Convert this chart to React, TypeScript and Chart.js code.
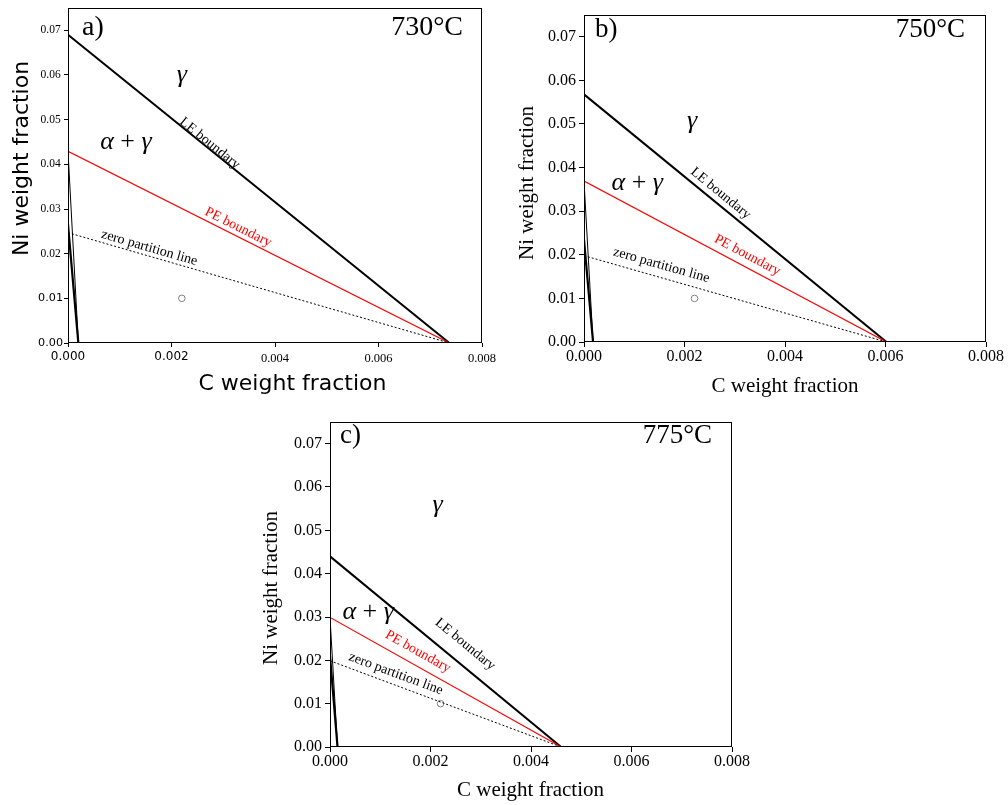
import React, { useEffect, useRef } from 'react';
import { Chart, registerables } from 'chart.js';

Chart.register(...registerables);

const SERIF = '"Liberation Serif", "Times New Roman", serif';
const SANS = '"DejaVu Sans", sans-serif';

// ---------------- data ----------------
const panelTags = ['a)', 'b)', 'c)'];
const temperatures = ['730°C', '750°C', '775°C'];

const xTickValues = [0, 0.002, 0.004, 0.006, 0.008];
const xTickLabels = ['0.000', '0.002', '0.004', '0.006', '0.008'];
const yTickValues = [0, 0.01, 0.02, 0.03, 0.04, 0.05, 0.06, 0.07];
const yTickLabels = ['0.00', '0.01', '0.02', '0.03', '0.04', '0.05', '0.06', '0.07'];
const xMax = 0.008;
const yMax = 0.075;

const xAxisTitle = 'C weight fraction';
const yAxisTitle = 'Ni weight fraction';

// boundary end points: Ni at C = 0, and C at Ni = 0
const leNiAtZeroC = [0.069, 0.0568, 0.044];
const peNiAtZeroC = [0.0429, 0.0369, 0.0299];
const zeroPartNiAtZeroC = [0.0247, 0.0198, 0.0199];
const boundaryCAtZeroNi = [0.00737, 0.00602, 0.0046];
const alphaCAtZeroNi = [0.0002, 0.00018, 0.00015];
const alphaInnerNi = [0.0265, 0.0235, 0.021];
const alloyC = [0.0022, 0.0022, 0.0022];
const alloyNi = [0.01, 0.01, 0.01];

// annotation anchors (data coordinates)
const gammaLabelC = [0.0022, 0.00215, 0.00214];
const gammaLabelNi = [0.0599, 0.0507, 0.0559];
const alphaGammaLabelC = [0.00112, 0.00106, 0.00076];
const alphaGammaLabelNi = [0.045, 0.0364, 0.031];
const leLabelC = [0.00274, 0.00272, 0.00269];
const leLabelNi = [0.0447, 0.0341, 0.0237];
const peLabelC = [0.00329, 0.00325, 0.00175];
const peLabelNi = [0.0259, 0.0199, 0.022];
const zpLabelC = [0.00157, 0.00154, 0.00131];
const zpLabelNi = [0.0213, 0.0176, 0.0169];

// ---------------- layout / styles ----------------
type PanelLayout = {
  left: number; top: number; w: number; h: number;
  area: { l: number; t: number; r: number; b: number };
  mixedTicks: boolean;
  tickSize: number;
  tickLen: number; padY: number; padX: number;
  titleFont: string;
  yTitle: [number, number]; xTitle: [number, number];
  tag: [number, number]; temp: [number, number]; bigSize: number;
};

const layouts: PanelLayout[] = [
  {
    left: 0, top: 0, w: 500, h: 400,
    area: { l: 68, t: 8, r: 482, b: 343 },
    mixedTicks: true, tickSize: 12.5, tickLen: 4, padY: 1, padX: 1,
    titleFont: `22px ${SANS}`,
    yTitle: [22, 158.5], xTitle: [292.5, 384],
    tag: [82, 35], temp: [463, 35], bigSize: 28,
  },
  {
    left: 500, top: 0, w: 508, h: 400,
    area: { l: 84, t: 15, r: 486, b: 342 },
    mixedTicks: false, tickSize: 16, tickLen: 5, padY: 3, padX: 0,
    titleFont: `21px ${SERIF}`,
    yTitle: [27.5, 183], xTitle: [285, 386],
    tag: [95, 37], temp: [465, 37], bigSize: 27,
  },
  {
    left: 250, top: 405, w: 520, h: 400,
    area: { l: 80, t: 17, r: 482, b: 342 },
    mixedTicks: false, tickSize: 16, tickLen: 5, padY: 3, padX: 0,
    titleFont: `21px ${SERIF}`,
    yTitle: [21.7, 183], xTitle: [280.5, 385],
    tag: [90, 38], temp: [462, 38], bigSize: 27,
  },
];

function makeOverlay(i: number) {
  const L = layouts[i];
  return {
    id: 'overlay' + i,
    afterDraw(chart: any) {
      const ctx: CanvasRenderingContext2D = chart.ctx;
      const xs = chart.scales.x;
      const ys = chart.scales.y;
      const ca = chart.chartArea;
      const px = (v: number) => xs.getPixelForValue(v);
      const py = (v: number) => ys.getPixelForValue(v);

      ctx.save();
      // frame
      ctx.strokeStyle = '#000';
      ctx.lineWidth = 1;
      const l = Math.round(ca.left), t = Math.round(ca.top);
      const r = Math.round(ca.right), b = Math.round(ca.bottom);
      ctx.strokeRect(l + 0.5, t + 0.5, r - l - 1, b - t - 1);

      // rotated line labels
      const xEnd = boundaryCAtZeroNi[i];
      const along = (text: string, cx: number, cy: number, y0: number, color: string) => {
        const ang = Math.atan2(py(0) - py(y0), px(xEnd) - px(0));
        ctx.save();
        ctx.translate(px(cx), py(cy));
        ctx.rotate(ang);
        ctx.font = `14px ${SERIF}`;
        ctx.fillStyle = color;
        ctx.textAlign = 'center';
        ctx.textBaseline = 'middle';
        ctx.fillText(text, 0, 0);
        ctx.restore();
      };
      along('LE boundary', leLabelC[i], leLabelNi[i], leNiAtZeroC[i], '#000');
      along('PE boundary', peLabelC[i], peLabelNi[i], peNiAtZeroC[i], '#ff0000');
      along('zero partition line', zpLabelC[i], zpLabelNi[i], zeroPartNiAtZeroC[i], '#000');

      // phase labels
      const gsize = 26;
      const italic = `italic ${gsize}px ${SERIF}`;
      const upright = `${gsize}px ${SERIF}`;
      ctx.fillStyle = '#000';
      ctx.textBaseline = 'middle';
      ctx.textAlign = 'center';
      ctx.font = italic;
      ctx.fillText('γ', px(gammaLabelC[i]), py(gammaLabelNi[i]));

      const parts: [string, string][] = [['α', italic], [' + ', upright], ['γ', italic]];
      let total = 0;
      const widths = parts.map(([s, f]) => { ctx.font = f; const w = ctx.measureText(s).width; total += w; return w; });
      let x0 = px(alphaGammaLabelC[i]) - total / 2;
      const yag = py(alphaGammaLabelNi[i]);
      ctx.textAlign = 'left';
      parts.forEach(([s, f], k) => { ctx.font = f; ctx.fillText(s, x0, yag); x0 += widths[k]; });

      // panel tag and temperature
      ctx.textBaseline = 'alphabetic';
      ctx.font = `${L.bigSize}px ${SERIF}`;
      ctx.textAlign = 'left';
      ctx.fillText(panelTags[i], L.tag[0], L.tag[1]);
      ctx.textAlign = 'right';
      ctx.fillText(temperatures[i], L.temp[0], L.temp[1]);

      // axis titles
      ctx.font = L.titleFont;
      ctx.textAlign = 'center';
      ctx.textBaseline = 'middle';
      ctx.fillText(xAxisTitle, L.xTitle[0], L.xTitle[1]);
      ctx.save();
      ctx.translate(L.yTitle[0], L.yTitle[1]);
      ctx.rotate(-Math.PI / 2);
      ctx.fillText(yAxisTitle, 0, 0);
      ctx.restore();

      ctx.restore();
    },
  };
}

function Panel({ index }: { index: number }) {
  const ref = useRef<HTMLCanvasElement>(null);
  const L = layouts[index];

  useEffect(() => {
    if (!ref.current) return;
    const i = index;
    const xEnd = boundaryCAtZeroNi[i];
    const lineBase = { showLine: true, pointRadius: 0, fill: false, tension: 0 };
    const sansTick = (idx: number) => L.mixedTicks && idx <= 1;
    const xTickFont = (ctx: any) => {
      if (!L.mixedTicks) return { family: SERIF, size: L.tickSize };
      return sansTick(ctx.index)
        ? { family: SANS, size: 12, lineHeight: 1.47 }
        : { family: SERIF, size: 12.5, lineHeight: 1.76 };
    };
    const yTickFont = (ctx: any) => {
      if (!L.mixedTicks) return { family: SERIF, size: L.tickSize };
      return sansTick(ctx.index) ? { family: SANS, size: 11.2 } : { family: SERIF, size: 11.5 };
    };
    const chart = new Chart(ref.current, {
      type: 'scatter',
      data: {
        datasets: [
          { ...lineBase, label: 'α + γ / α (outer)', data: [{ x: 0, y: peNiAtZeroC[i] }, { x: alphaCAtZeroNi[i], y: 0 }], borderColor: '#000', borderWidth: 1 },
          { ...lineBase, label: 'α + γ / α (inner)', data: [{ x: 0, y: alphaInnerNi[i] }, { x: alphaCAtZeroNi[i], y: 0 }], borderColor: '#000', borderWidth: 2.2 },
          { ...lineBase, label: 'zero partition line', data: [{ x: 0, y: zeroPartNiAtZeroC[i] }, { x: xEnd, y: 0 }], borderColor: '#000', borderWidth: 1, borderDash: [2, 2] },
          { ...lineBase, label: 'PE boundary', data: [{ x: 0, y: peNiAtZeroC[i] }, { x: xEnd, y: 0 }], borderColor: '#ff0000', borderWidth: 1.2 },
          { ...lineBase, label: 'LE boundary', data: [{ x: 0, y: leNiAtZeroC[i] }, { x: xEnd, y: 0 }], borderColor: '#000', borderWidth: 2 },
          { label: 'alloy', data: [{ x: alloyC[i], y: alloyNi[i] }], showLine: false, pointRadius: 3.3, pointStyle: 'circle', borderColor: '#808080', backgroundColor: 'rgba(0,0,0,0)', borderWidth: 1 },
        ] as any,
      },
      options: {
        responsive: false,
        animation: false,
        devicePixelRatio: 1,
        events: [],
        layout: { padding: { left: 0, top: L.area.t, right: L.w - L.area.r, bottom: 0 } },
        plugins: { legend: { display: false }, tooltip: { enabled: false } },
        scales: {
          x: {
            type: 'linear', min: 0, max: xMax,
            afterFit: (s: any) => { s.height = L.h - L.area.b; },
            afterBuildTicks: (s: any) => { s.ticks = xTickValues.map((v) => ({ value: v })); },
            ticks: {
              callback: (_v: any, idx: number) => xTickLabels[idx],
              color: '#000', font: xTickFont as any, padding: L.padX,
              maxRotation: 0, minRotation: 0, autoSkip: false,
            },
            grid: { display: true, drawOnChartArea: false, drawTicks: true, tickLength: L.tickLen, color: '#000', tickColor: '#000', tickWidth: 1 },
            border: { display: false },
            title: { display: false },
          },
          y: {
            type: 'linear', min: 0, max: yMax,
            afterFit: (s: any) => { s.width = L.area.l; },
            afterBuildTicks: (s: any) => { s.ticks = yTickValues.map((v) => ({ value: v })); },
            ticks: {
              // in panel a the serif labels sit a little further from the axis
              callback: (_v: any, idx: number) =>
                yTickLabels[idx] + (L.mixedTicks && !sansTick(idx) ? '\u2009' : ''),
              color: '#000', font: yTickFont as any, padding: L.padY, autoSkip: false,
            },
            grid: { display: true, drawOnChartArea: false, drawTicks: true, tickLength: L.tickLen, color: '#000', tickColor: '#000', tickWidth: 1 },
            border: { display: false },
            title: { display: false },
          },
        },
      } as any,
      plugins: [makeOverlay(i)],
    });
    return () => chart.destroy();
  }, [index]);

  return (
    <canvas
      ref={ref}
      width={L.w}
      height={L.h}
      style={{ position: 'absolute', left: L.left, top: L.top, width: L.w, height: L.h }}
    />
  );
}

export default function App() {
  return (
    <div style={{ position: 'absolute', left: 0, top: 0, width: 1008, height: 805, overflow: 'hidden', background: '#fff' }}>
      <Panel index={0} />
      <Panel index={1} />
      <Panel index={2} />
    </div>
  );
}
